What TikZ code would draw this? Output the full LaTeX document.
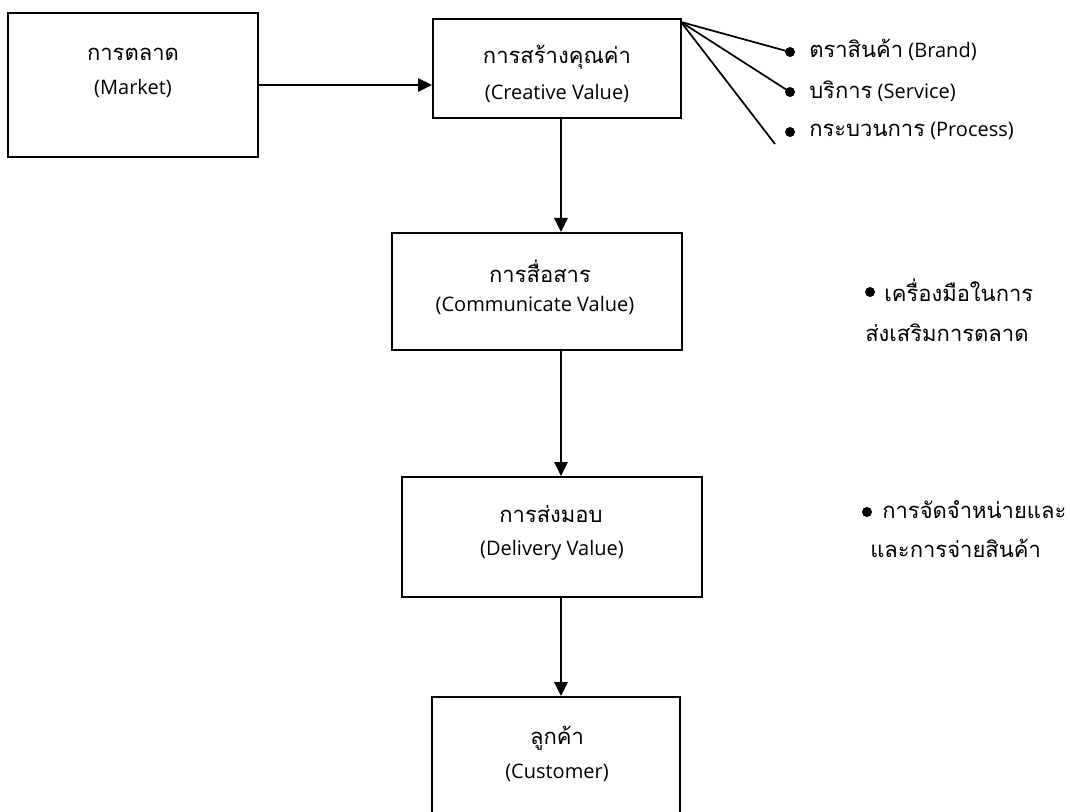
\documentclass[tikz,border=0pt]{standalone}
\usepackage{fontspec}
\setmainfont{Open Sans}
\newfontfamily\thai[Script=Thai]{Loma}
\usetikzlibrary{arrows.meta}
\begin{document}
\begin{tikzpicture}[x=0.75pt,y=-0.75pt,
  box/.style={draw=black,line width=1.5pt,rectangle,inner sep=0pt},
  lbl/.style={inner sep=0pt,font=\fontsize{15}{17}\selectfont},
  tlbl/.style={inner sep=0pt,font=\fontsize{16.5}{18}\selectfont\thai},
  conn/.style={line width=1.3pt},
  arr/.style={line width=1.3pt,-{Triangle[length=10.5pt,width=10pt]}},
  dot/.style={circle,fill=black,inner sep=0pt,minimum size=7.5pt}]
\useasboundingbox (0,0) rectangle (1070,812);
\fill[white] (0,0) rectangle (1070,812);
% boxes
\node[box,minimum width=187.5pt,minimum height=108pt] (market) at (133,85) {};
\node[box,minimum width=186pt,minimum height=74.25pt] (creative) at (557,68.5) {};
\node[box,minimum width=217.5pt,minimum height=87.75pt] (comm) at (537,291.5) {};
\node[box,minimum width=225pt,minimum height=90pt] (deliv) at (552,537) {};
\node[box,minimum width=186pt,minimum height=88.5pt] (cust) at (556,756) {};
% box labels
\node[tlbl] (m1) at (133,54) {การตลาด};
\node[lbl] (m2) at (133,88) {(Market)};
\node[tlbl] (c1) at (557,57) {การสร้างคุณค่า};
\node[lbl] (c2) at (557,93) {(Creative Value)};
\node[tlbl] (k1) at (540,271) {การสื่อสาร};
\node[lbl] (k2) at (535,305) {(Communicate Value)};
\node[tlbl] (d1) at (551,514) {การส่งมอบ};
\node[lbl] (d2) at (552,550) {(Delivery Value)};
\node[tlbl] (u1) at (557,738) {ลูกค้า};
\node[lbl] (u2) at (557,773) {(Customer)};
% connectors
\coordinate (vx) at (561,0);
\draw[arr] (market.east) -- (market.east -| creative.west);
\draw[arr] (vx |- creative.south) -- (vx |- comm.north);
\draw[arr] (vx |- comm.south) -- (vx |- deliv.north);
\draw[arr] (vx |- deliv.south) -- (vx |- cust.north);
% creative value bullets
\coordinate (corner) at (681,22);
\node[dot] (b1) at (790,52) {};
\node[dot] (b2) at (790,92) {};
\node[dot] (b3) at (790,132) {};
\coordinate (pend) at (775,144);
\draw[conn] (corner) -- (b1.center);
\draw[conn] (corner) -- (b2.center);
\draw[conn] (corner) -- (pend);
\node[lbl,anchor=west] (t1) at (809,50) {{\thai\fontsize{16.5}{18}\selectfont ตราสินค้า} (Brand)};
\node[lbl,anchor=west] (t2) at (809,91) {{\thai\fontsize{16.5}{18}\selectfont บริการ} (Service)};
\node[lbl,anchor=west] (t3) at (809,131) {{\thai\fontsize{16.5}{18}\selectfont กระบวนการ} (Process)};
% communicate bullet
\node[dot] (b4) at (870,292) {};
\node[tlbl,anchor=west] (t4) at (884,290) {เครื่องมือในการ};
\node[tlbl,anchor=west] (t5) at (865,333) {ส่งเสริมการตลาด};
% delivery bullet
\node[dot] (b5) at (867,512) {};
\node[tlbl,anchor=west] (t6) at (882,510) {การจัดจำหน่ายและ};
\node[tlbl,anchor=west] (t7) at (870,548) {และการจ่ายสินค้า};
\end{tikzpicture}
\end{document}
